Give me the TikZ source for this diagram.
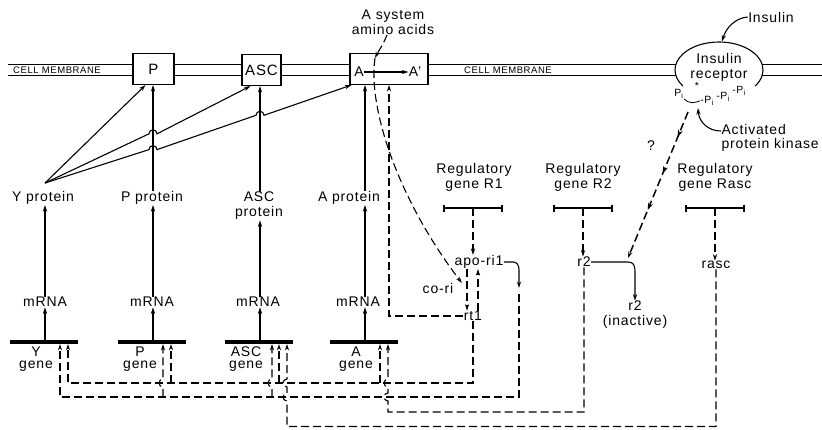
\documentclass[tikz,border=0pt]{standalone}
\usepackage{fontspec}
\setmainfont{Liberation Sans}[LetterSpace=6]
\usetikzlibrary{arrows.meta,shapes.geometric,decorations.markings,calc}

\begin{document}
\begin{tikzpicture}[x=1pt,y=-1pt,line width=1.1pt,
  lbl/.style={align=center,inner sep=0pt,font=\fontsize{14}{15}\selectfont},
  genelbl/.style={align=center,inner sep=0pt,font=\fontsize{14}{12.5}\selectfont},
  memlbl/.style={inner sep=0pt,font=\fontsize{9.5}{11}\selectfont},
  pilbl/.style={inner sep=0pt,font=\fontsize{10.5}{12}\selectfont},
  box/.style={draw,fill=white,minimum height=31pt,inner sep=0pt,font=\fontsize{15}{17}\selectfont},
  tip/.style={-{Stealth[length=6.5pt,width=4.2pt]}},
  dsh/.style={dash pattern=on 8pt off 4pt},
  gbar/.style={line width=3.8pt},
  rgene/.style={line width=1.9pt,{Bar[width=7pt]}-{Bar[width=7pt]}},
  multitip/.style={postaction={decorate,decoration={markings,
    mark=at position 0.17 with {\arrow{Stealth[length=7pt,width=5pt]}},
    mark=at position 0.42 with {\arrow{Stealth[length=7pt,width=5pt]}},
    mark=at position 0.67 with {\arrow{Stealth[length=7pt,width=5pt]}}}}}]
% 822pt x 429pt, membrane transport and its regulation
\path[use as bounding box] (0,0) rectangle (822,429);

% cell membrane
\draw[line width=0.9pt] (8,64) -- (822,64) (8,75) -- (822,75);
\node[memlbl] (cm1) at (57,70) {CELL MEMBRANE};
\node[memlbl] (cm2) at (508,70) {CELL MEMBRANE};

% carriers
\node[box,minimum width=41pt] (Pbox) at (153.5,69) {P};
\node[box,minimum width=39pt] (ASCbox) at (261.5,70) {ASC};
\node[box,minimum width=78pt] (Abox) at (389,69) {};
\node[lbl] (A1) at (359,72) {A};
\node[lbl] (A2) at (415,72) {A'};
\draw[tip] (A1) -- (A2);

% insulin receptor
\node[ellipse,fill=white,minimum width=88pt,minimum height=56pt,inner sep=0pt] (IR) at (719,70) {};
\draw (IR.center) ++(-35:44pt and 28pt) arc[start angle=-35,end angle=215,x radius=44pt,y radius=28pt];
\node[lbl] (IRt) at (719,67) {Insulin\\receptor};
\node[pilbl] (phos1) at (679,94) {P\textsubscript{i}};
\node[pilbl] (star) at (697,86) {*};
\node[pilbl] (phos2) at (707,101) {-P\textsubscript{i}};
\node[pilbl] (phos3) at (723,97) {-P\textsubscript{i}};
\node[pilbl] (phos4) at (739,91) {-P\textsubscript{i}};
\draw[line width=0.8pt] (phos1.south east) .. controls (689,104) and (694,103) .. (phos2.west);
\node[lbl] (ins) at (771,17) {Insulin};
\draw[tip] (ins.west) .. controls (735,18) and (726,28) .. ([xshift=3pt]IR.north);
\node[lbl,align=left,anchor=west,font=\fontsize{14}{14}\selectfont] (apk) at (721,138) {Activated\\protein kinase};
\coordinate (kin) at (698,108);
\draw[tip] ([yshift=7pt]apk.west) .. controls (708,131) and (699,122) .. (kin);

% amino acids
\node[lbl] (aa) at (393,22) {A system\\amino acids};
\coordinate (aain) at (375,58);
\draw[dsh,tip] ([xshift=-6pt]aa.south) .. controls (383,45) and (378,52) .. (aain);

% proteins, mRNA, genes
\node[lbl] (Yp) at (43,198) {Y protein};
\node[lbl] (Pp) at (152,198) {P protein};
\node[lbl] (Sp) at (259,206) {ASC\\protein};
\node[lbl] (Ap) at (349,198) {A protein};
\node[lbl] (Ym) at (45,302) {mRNA};
\node[lbl] (Pm) at (152,302) {mRNA};
\node[lbl] (Sm) at (258,302) {mRNA};
\node[lbl] (Am) at (358,302) {mRNA};
\coordinate (Yg) at (45,342);
\coordinate (Pg) at (153,342);
\coordinate (Sg) at (260,342);
\coordinate (Ag) at (365,342);
\draw[gbar] (Yg) ++(-35,0) -- ++(68,0);
\draw[gbar] (Pg) ++(-35,0) -- ++(68,0);
\draw[gbar] (Sg) ++(-35,0) -- ++(68,0);
\draw[gbar] (Ag) ++(-35,0) -- ++(68,0);
\node[genelbl] (Ygl) at (36,359) {Y\\gene};
\node[genelbl] (Pgl) at (140,359) {P\\gene};
\node[genelbl] (Sgl) at (246,359) {ASC\\gene};
\node[genelbl] (Agl) at (356,359) {A\\gene};

\draw[tip] (Yg) -- (Ym.south -| Yg);
\draw[tip] (Pg) -- (Pm.south -| Pg);
\draw[tip] (Sg) -- (Sm.south -| Sg);
\draw[tip] (Ag) -- (Am.south -| Ag);
\draw[tip] (Ym.north -| Yg) -- (Yp.south -| Yg);
\draw[tip] (Pm.north -| Pg) -- (Pp.south -| Pg);
\draw[tip] (Sm.north -| Sg) -- (Sp.south -| Sg);
\draw[tip] (Am.north -| Ag) -- (Ap.south -| Ag);
\draw[tip] (Pp.north -| Pg) -- (Pbox.south -| Pg);
\draw[tip] (Sp.north -| Sg) -- (ASCbox.south -| Sg);
\draw[tip] (Ap.north -| Ag) -- (Abox.south -| Ag);

% Y protein to the carriers
\coordinate (ys) at (45,183);
\draw[tip] (ys) -- ([xshift=13pt]Pbox.south west);
\draw[tip] (ys) -- (149,133.8) arc[start angle=180,end angle=0,radius=4pt] -- ([xshift=9pt]ASCbox.south west);
\draw[tip] (ys) -- (149,149.6) arc[start angle=180,end angle=0,radius=4pt]
  -- (256,115.3) arc[start angle=180,end angle=0,radius=4pt] -- ([xshift=2pt]Abox.south west);

% regulatory genes
\node[lbl] (R1t) at (474,177) {Regulatory\\gene R1};
\node[lbl] (R2t) at (583,177) {Regulatory\\gene R2};
\node[lbl] (Rst) at (715,177) {Regulatory\\gene Rasc};
\coordinate (R1g) at (473,208);
\coordinate (R2g) at (583,208);
\coordinate (Rsg) at (715,208);
\draw[rgene] ([xshift=-30pt]R1g) -- ([xshift=30pt]R1g);
\draw[rgene] ([xshift=-30pt]R2g) -- ([xshift=30pt]R2g);
\draw[rgene] ([xshift=-30pt]Rsg) -- ([xshift=30pt]Rsg);
\node[lbl] (apo) at (479,262) {apo-ri1};
\node[lbl] (cori) at (438,288) {co-ri};
\node[lbl] (rt1) at (473,316) {rt1};
\node[lbl] (r2) at (584,262) {r2};
\node[lbl] (r2i) at (635,315) {r2\\(inactive)};
\node[lbl] (rasc) at (716,265) {rasc};
\node[lbl] (qm) at (651,146) {?};
\draw[dsh,tip] (R1g) -- (R1g |- apo.north);
\draw[dsh,tip] (R2g) -- (R2g |- r2.north);
\draw[dsh,tip] (Rsg) -- (Rsg |- rasc.north);

% R1 branch
\draw[dsh,tip] (aain) .. controls (368,105) and (395,195) .. ([xshift=8pt,yshift=5pt]cori.east);
\draw[dsh,tip] ([xshift=-12pt]apo.south) -- ([xshift=-6pt]rt1.north);
\draw[dsh,tip] ([xshift=5pt]rt1.north) -- ([xshift=-1pt]apo.south);
\draw[dsh,tip] (rt1.west) -| (Abox.south);
\coordinate (apok) at (519,288);
\draw[tip] (apo.east) -- (513,262) .. controls (517,262) and (519,265) .. (519,270) -- (apok);

% R2 branch
\coordinate (r2k) at (628,262);
\draw[tip] (r2.east) -- (r2k) .. controls (633,262) and (635,265) .. (635,271) -- (r2i.north);
\coordinate (ir0) at (688,112);
\draw[line width=1.5pt,dash pattern=on 8pt off 4pt,tip,multitip] (ir0) -- ([yshift=4pt]r2k);

% inputs to the structural genes
\coordinate (lvA) at (0,383);
\coordinate (lvB) at (0,397);
\coordinate (lvC) at (0,412);
\coordinate (lvD) at (0,426.5);
\coordinate (yin1) at (60,344);
\coordinate (yin2) at (68,344);
\coordinate (pin1) at (163,344);
\coordinate (pin2) at (171,344);
\coordinate (sin1) at (272,344);
\coordinate (sin2) at (279,344);
\coordinate (sin3) at (287,344);
\coordinate (ain1) at (380,344);
\coordinate (ain2) at (388,344);

% rt1
\draw[dsh,tip] (rt1.south) |- (yin2 |- lvA) -- (yin2);
\draw[dsh,tip] (pin2 |- lvA) -- (pin2);
\draw[dsh,tip] (sin2 |- lvA) -- (sin2);
\draw[dsh,tip] (ain1 |- lvA) -- (ain1);
% apo-ri1
\draw[dsh,tip] ($(apok)+(0,6)$) |- (yin1 |- lvB) -- (yin1);
\draw[dsh,tip] (pin1 |- lvB) -- ($(pin1 |- lvA)+(0,4)$) arc[start angle=270,end angle=90,radius=4pt] -- (pin1);
\draw[dsh,tip] (sin1 |- lvB) -- ($(sin1 |- lvA)+(0,4)$) arc[start angle=270,end angle=90,radius=4pt] -- (sin1);
% r2
\draw[dsh,tip] (r2.south) |- (ain2 |- lvC) -- ($(ain2 |- lvB)+(0,4)$) arc[start angle=270,end angle=90,radius=4pt]
  -- ($(ain2 |- lvA)+(0,4)$) arc[start angle=270,end angle=90,radius=4pt] -- (ain2);
% rasc
\draw[dsh,tip] (rasc.south) |- (sin3 |- lvD) -- ($(sin3 |- lvB)+(0,4)$) arc[start angle=270,end angle=90,radius=4pt]
  -- ($(sin3 |- lvA)+(0,4)$) arc[start angle=270,end angle=90,radius=4pt] -- (sin3);
\end{tikzpicture}
\end{document}
